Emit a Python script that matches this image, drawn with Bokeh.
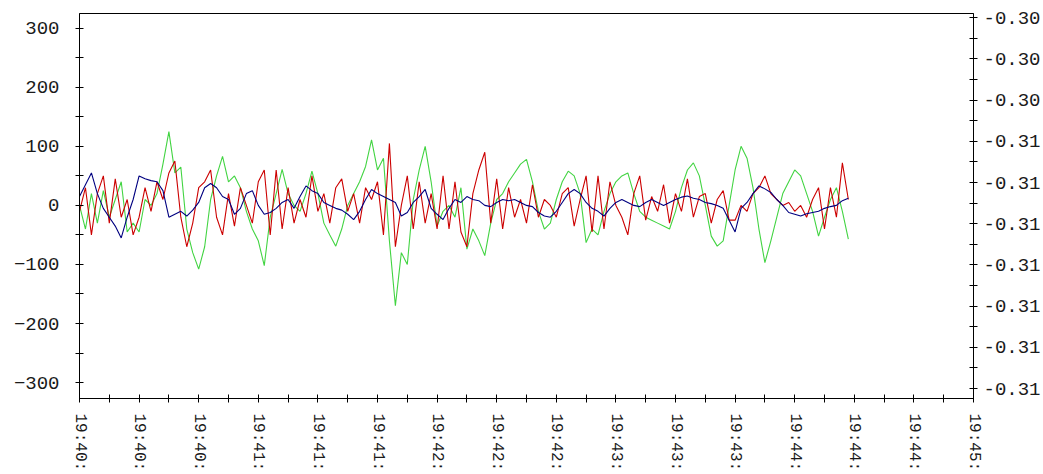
import math
from bokeh.plotting import figure
from bokeh.models import Range1d, LinearAxis, FixedTicker
from bokeh.embed import file_html
from bokeh.resources import INLINE

# ---- data (sampled every 2 s from 19:40:00) ----
sample_step_s = 2

green_values = [
    0, -40, 20, -30, 25, -20, 10, 40, -45, -30,
    -45, 10, 0, 20, 70, 125, 55, 65, -40, -80,
    -108, -70, 10, 50, 83, 40, 50, 30, -10, -40,
    -60, -102, -20, 20, 61, 20, 0, -10, 20, 58,
    20, -30, -50, -69, -40, 0, 20, 40, 66, 111,
    60, 80, -60, -170, -80, -100, 10, 60, 100, 40,
    -35, -10, 0, -20, 30, -74, -40, -60, -85, -30,
    10, 20, 40, 55, 70, 78, 40, -10, -40, -30,
    10, 40, 58, 50, 20, -63, -40, -50, -10, 20,
    40, 50, 55, 20, -10, -20, -25, -30, -35, -40,
    -10, 30, 60, 72, 50, 0, -52, -69, -60, 0,
    60, 100, 80, 30, -40, -97, -60, -20, 20, 40,
    60, 50, 20, -10, -52, -20, 10, 30, -10, -57,
]

red_values = [
    -10, 30, -50, 20, 50, -30, 45, -20, 10, -50,
    -20, 30, -10, 40, 10, 55, 75, -20, -70, -30,
    30, 40, 60, -20, -50, 20, -35, 30, 0, -30,
    40, 60, -50, 60, -40, 30, -30, 10, -20, 50,
    -10, 20, -30, 30, 45, -10, 20, -30, 30, 10,
    40, -50, 105, -70, 0, 50, -40, 40, -30, 20,
    -40, 50, -40, 40, -45, -70, 20, 60, 90, -30,
    45, -40, 30, -20, 10, -30, 35, -20, 10, 0,
    -20, 20, 30, -35, 10, 50, -45, 50, -40, 40,
    0, -20, -50, 20, 50, -25, 15, -10, 35, -30,
    20, -10, 45, -20, 15, 20, -30, 10, 25, -25,
    -25, 0, -10, 20, 30, 50, 20, 10, 0, 5,
    -10, 0, -20, 10, 30, -40, 30, -20, 72, 10,
]

blue_values = [
    15, 35, 55, 20, -5, -20, -35, -55, -20, 10,
    50, 45, 42, 40, 25, -20, -15, -10, -18, -8,
    5, 30, 37, 30, 15, 10, -15, -5, 20, 25,
    0, -15, -12, -5, 5, 10, -5, 15, 33, 25,
    20, 5, 0, -5, -8, -15, -24, -10, 10, 27,
    20, 15, 10, 5, -18, -12, 5, 15, 27, -5,
    -15, -24, -5, 10, 5, 15, 10, 8, 0, -2,
    5, 10, 8, 10, 5, 0, -2, -12, -18, -20,
    -10, 5, 20, 27, 20, 5, -5, -10, -18, -5,
    5, 10, 5, 0, -2, 5, 10, 5, 0, 5,
    10, 14, 16, 12, 10, 5, 3, 0, -5, -25,
    -45, -5, 5, 20, 33, 28, 22, 10, 0, -12,
    -15, -18, -14, -12, -10, -5, -2, 0, 8, 12,
]

times_s = [i * sample_step_s for i in range(len(red_values))]

x_tick_seconds = [0, 20, 40, 60, 80, 100, 120, 140, 160, 180, 200, 220, 240, 260, 280, 300]
x_minor_seconds = [10, 30, 50, 70, 90, 110, 130, 150, 170, 190, 210, 230, 250, 270, 290]
x_tick_labels = ["19:40:", "19:40:", "19:40:", "19:41:", "19:41:", "19:41:",
                 "19:42:", "19:42:", "19:42:", "19:43:", "19:43:", "19:43:",
                 "19:44:", "19:44:", "19:44:", "19:45:"]

left_ticks = [-300, -200, -100, 0, 100, 200, 300]
left_minor = [-250, -150, -50, 50, 150, 250]

right_ticks = [0, 1, 2, 3, 4, 5, 6, 7, 8, 9]
right_minor = [0.5, 1.5, 2.5, 3.5, 4.5, 5.5, 6.5, 7.5, 8.5]
right_tick_labels = ["-0.31", "-0.31", "-0.31", "-0.31", "-0.31", "-0.31", "-0.31",
                     "-0.30", "-0.30", "-0.30"]  # bottom to top

FONT = "Liberation Mono"
TEXT_COLOR = "#1a1a1a"

p = figure(width=1043, height=474,
           x_range=Range1d(0, 300), y_range=Range1d(-327, 325),
           output_backend="svg", toolbar_location=None,
           min_border_left=79, min_border_right=70, min_border_top=13, min_border_bottom=0,
           background_fill_color="white", border_fill_color="white")

p.xgrid.visible = False
p.ygrid.visible = False
p.outline_line_color = "black"
p.outline_line_width = 1

p.line(times_s, green_values, line_color="#42d442", line_width=1.1)
p.line(times_s, red_values, line_color="#cc0000", line_width=1.1)
p.line(times_s, blue_values, line_color="#000080", line_width=1.1)

p.extra_y_ranges = {"right": Range1d(-0.24, 9.1)}
right_axis = LinearAxis(y_range_name="right")
p.add_layout(right_axis, "right")

p.xaxis.ticker = FixedTicker(ticks=x_tick_seconds, minor_ticks=x_minor_seconds)
p.xaxis.major_label_overrides = {t: lbl for t, lbl in zip(x_tick_seconds, x_tick_labels)}
p.xaxis.major_label_orientation = -math.pi / 2
p.xaxis.major_label_text_font_size = "16px"
p.xaxis.major_label_standoff = 11

p.yaxis[0].ticker = FixedTicker(ticks=left_ticks, minor_ticks=left_minor)
p.yaxis[0].major_label_standoff = 16

right_axis.ticker = FixedTicker(ticks=right_ticks, minor_ticks=right_minor)
right_axis.major_label_overrides = {t: lbl for t, lbl in zip(right_ticks, right_tick_labels)}
right_axis.major_label_standoff = 6

for ax in p.xaxis + p.yaxis:
    ax.axis_line_color = "black"
    ax.axis_line_width = 1
    ax.major_tick_line_color = "black"
    ax.minor_tick_line_color = "black"
    ax.major_tick_in = 4
    ax.major_tick_out = 4
    ax.minor_tick_in = 4
    ax.minor_tick_out = 4
    ax.major_label_text_font = FONT
    ax.major_label_text_color = TEXT_COLOR
for ax in p.yaxis:
    ax.major_label_text_font_size = "19px"

open("out.html", "w").write(file_html(p, INLINE))
